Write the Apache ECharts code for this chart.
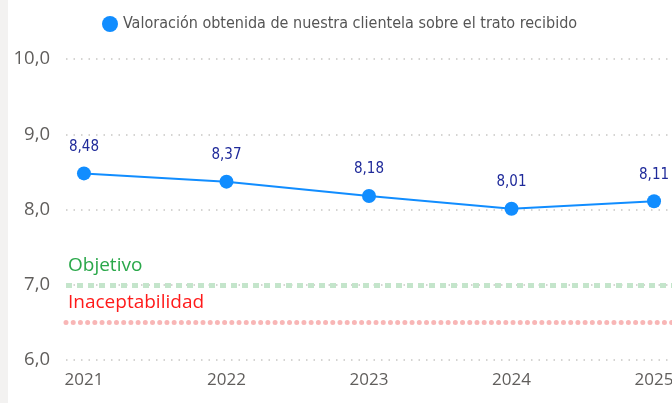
<!DOCTYPE html>
<html lang="es">
<head>
    <meta charset="UTF-8">
    <title>Valoración</title>
    <style>
        body, html { margin: 0; padding: 0; background: #fff; }
        #main { width: 672px; height: 403px; }
    </style>
</head>
<body>
    <div id="main"></div>
    <script src="https://cdn.jsdelivr.net/npm/echarts@6/dist/echarts.min.js"></script>
    <script>
        // datos
        const years = [2021, 2022, 2023, 2024, 2025]
        const valores = [8.48, 8.37, 8.18, 8.01, 8.11]
        const objetivo = 7.0
        const inaceptable = 6.5
        const serieNombre = 'Valoración obtenida de nuestra clientela sobre el trato recibido'

        const coma = (v, d) => v.toFixed(d).replace('.', ',')

        var myChart = echarts.init(document.getElementById('main'))

        var option = {
            animation: false,
            legend: {
                left: 97,
                top: 11,
                icon: 'circle',
                itemWidth: 16,
                itemHeight: 16,
                itemGap: 4,
                textStyle: {
                    color: '#555',
                    fontSize: 16,
                    fontFamily: 'DejaVu Sans Condensed'
                },
                data: [serieNombre]
            },
            grid: {
                left: 66,
                right: 0,
                top: 59,
                bottom: 43,
                containLabel: false,
                outerBoundsMode: 'none'
            },
            xAxis: {
                type: 'value',
                min: 2020.874,
                max: 2025.126,
                splitLine: { show: false },
                axisLine: { show: false },
                axisTick: { show: false },
                axisLabel: {
                    customValues: years,
                    margin: 12,
                    fontSize: 17,
                    color: '#605e5c',
                    fontFamily: 'Open Sans',
                    formatter: v => String(v)
                }
            },
            yAxis: {
                type: 'value',
                min: 6,
                max: 10,
                interval: 1,
                axisLine: { show: false },
                axisTick: { show: false },
                axisLabel: {
                    margin: 16,
                    fontSize: 18.5,
                    color: '#605e5c',
                    fontFamily: 'Open Sans',
                    formatter: v => coma(v, 1)
                },
                splitLine: {
                    lineStyle: { color: '#c8c6c4', width: 1.5, type: [1.5, 6] }
                }
            },
            series: [
                {
                    name: serieNombre,
                    type: 'line',
                    data: years.map((y, i) => [y, valores[i]]),
                    color: '#118dff',
                    lineStyle: { width: 2 },
                    symbol: 'circle',
                    symbolSize: 14,
                    label: {
                        show: true,
                        position: 'top',
                        distance: 12,
                        color: '#1f2a9a',
                        fontSize: 15,
                        fontFamily: 'DejaVu Sans Condensed',
                        formatter: p => coma(p.value[1], 2)
                    },
                    markLine: {
                        silent: true,
                        symbol: 'none',
                        data: [
                            {
                                yAxis: objetivo,
                                lineStyle: { color: '#c4e5cb', width: 5, type: [6, 5] },
                                label: {
                                    formatter: 'Objetivo',
                                    position: 'insideStartTop',
                                    distance: [2, 10],
                                    color: '#2aa84a',
                                    fontSize: 19,
                                    fontFamily: 'Open Sans'
                                }
                            },
                            {
                                yAxis: inaceptable,
                                lineStyle: { color: '#f8b6b6', width: 5, type: [0.01, 7.2], cap: 'round' },
                                label: {
                                    formatter: 'Inaceptabilidad',
                                    position: 'insideStartTop',
                                    distance: [2, 10],
                                    color: '#ff1a1a',
                                    fontSize: 19,
                                    fontFamily: 'Open Sans'
                                }
                            }
                        ]
                    }
                }
            ],
            graphic: {
                elements: [
                    {
                        type: 'rect',
                        left: 0,
                        top: 0,
                        shape: { width: 8, height: 403 },
                        style: { fill: '#f3f2f1' }
                    }
                ]
            }
        }

        myChart.setOption(option)
    </script>
</body>
</html>
